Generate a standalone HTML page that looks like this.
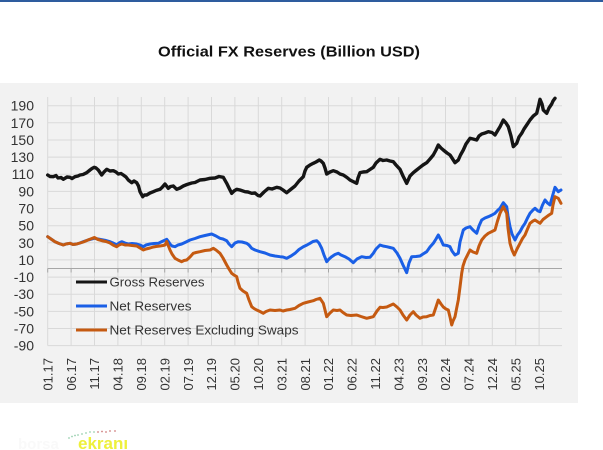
<!DOCTYPE html>
<html>
<head>
<meta charset="utf-8">
<style>
html,body{margin:0;padding:0;background:#fff;}
svg{display:block;}
text{font-family:"Liberation Sans",Arial,sans-serif;}
</style>
</head>
<body>
<svg width="603" height="450" viewBox="0 0 603 450" xmlns="http://www.w3.org/2000/svg">
<rect x="0" y="0" width="603" height="450" fill="#ffffff"/>
<rect x="0" y="0" width="603" height="2" fill="#2e5c9e"/>
<text x="289" y="56.5" text-anchor="middle" font-size="15" font-weight="bold" fill="#111" textLength="262" lengthAdjust="spacingAndGlyphs">Official  FX Reserves (Billion  USD)</text>
<rect x="0" y="83" width="578" height="320" fill="#f2f2f2"/>

<!-- horizontal gridlines -->
<g stroke="#d9d9d9" stroke-width="1">
<line x1="47.7" x2="562" y1="105.7" y2="105.7"/>
<line x1="47.7" x2="562" y1="122.8" y2="122.8"/>
<line x1="47.7" x2="562" y1="140" y2="140"/>
<line x1="47.7" x2="562" y1="157.1" y2="157.1"/>
<line x1="47.7" x2="562" y1="174.2" y2="174.2"/>
<line x1="47.7" x2="562" y1="191.4" y2="191.4"/>
<line x1="47.7" x2="562" y1="208.5" y2="208.5"/>
<line x1="47.7" x2="562" y1="225.7" y2="225.7"/>
<line x1="47.7" x2="562" y1="242.8" y2="242.8"/>
<line x1="47.7" x2="562" y1="259.9" y2="259.9"/>
<line x1="47.7" x2="562" y1="277.1" y2="277.1"/>
<line x1="47.7" x2="562" y1="294.2" y2="294.2"/>
<line x1="47.7" x2="562" y1="311.4" y2="311.4"/>
<line x1="47.7" x2="562" y1="328.5" y2="328.5"/>
<line x1="47.7" x2="562" y1="345.6" y2="345.6"/>
</g>
<!-- vertical gridlines -->
<g stroke="#d9d9d9" stroke-width="1">
<line y1="97" y2="345.6" x1="47.7" x2="47.7"/>
<line y1="97" y2="345.6" x1="71.1" x2="71.1"/>
<line y1="97" y2="345.6" x1="94.5" x2="94.5"/>
<line y1="97" y2="345.6" x1="117.9" x2="117.9"/>
<line y1="97" y2="345.6" x1="141.3" x2="141.3"/>
<line y1="97" y2="345.6" x1="164.7" x2="164.7"/>
<line y1="97" y2="345.6" x1="188.1" x2="188.1"/>
<line y1="97" y2="345.6" x1="211.5" x2="211.5"/>
<line y1="97" y2="345.6" x1="234.9" x2="234.9"/>
<line y1="97" y2="345.6" x1="258.3" x2="258.3"/>
<line y1="97" y2="345.6" x1="281.7" x2="281.7"/>
<line y1="97" y2="345.6" x1="305.1" x2="305.1"/>
<line y1="97" y2="345.6" x1="328.5" x2="328.5"/>
<line y1="97" y2="345.6" x1="351.9" x2="351.9"/>
<line y1="97" y2="345.6" x1="375.3" x2="375.3"/>
<line y1="97" y2="345.6" x1="398.7" x2="398.7"/>
<line y1="97" y2="345.6" x1="422.1" x2="422.1"/>
<line y1="97" y2="345.6" x1="445.5" x2="445.5"/>
<line y1="97" y2="345.6" x1="468.9" x2="468.9"/>
<line y1="97" y2="345.6" x1="492.3" x2="492.3"/>
<line y1="97" y2="345.6" x1="515.7" x2="515.7"/>
<line y1="97" y2="345.6" x1="539.1" x2="539.1"/>
</g>
<!-- zero axis + ticks -->
<g stroke="#a6a6a6" stroke-width="1">
<line x1="47.7" x2="562" y1="268.5" y2="268.5"/>
<line y1="268.5" y2="272.5" x1="47.7" x2="47.7"/>
<line y1="268.5" y2="272.5" x1="71.1" x2="71.1"/>
<line y1="268.5" y2="272.5" x1="94.5" x2="94.5"/>
<line y1="268.5" y2="272.5" x1="117.9" x2="117.9"/>
<line y1="268.5" y2="272.5" x1="141.3" x2="141.3"/>
<line y1="268.5" y2="272.5" x1="164.7" x2="164.7"/>
<line y1="268.5" y2="272.5" x1="188.1" x2="188.1"/>
<line y1="268.5" y2="272.5" x1="211.5" x2="211.5"/>
<line y1="268.5" y2="272.5" x1="234.9" x2="234.9"/>
<line y1="268.5" y2="272.5" x1="258.3" x2="258.3"/>
<line y1="268.5" y2="272.5" x1="281.7" x2="281.7"/>
<line y1="268.5" y2="272.5" x1="305.1" x2="305.1"/>
<line y1="268.5" y2="272.5" x1="328.5" x2="328.5"/>
<line y1="268.5" y2="272.5" x1="351.9" x2="351.9"/>
<line y1="268.5" y2="272.5" x1="375.3" x2="375.3"/>
<line y1="268.5" y2="272.5" x1="398.7" x2="398.7"/>
<line y1="268.5" y2="272.5" x1="422.1" x2="422.1"/>
<line y1="268.5" y2="272.5" x1="445.5" x2="445.5"/>
<line y1="268.5" y2="272.5" x1="468.9" x2="468.9"/>
<line y1="268.5" y2="272.5" x1="492.3" x2="492.3"/>
<line y1="268.5" y2="272.5" x1="515.7" x2="515.7"/>
<line y1="268.5" y2="272.5" x1="539.1" x2="539.1"/>
</g>

<!-- y labels -->
<g font-size="14" fill="#333" text-anchor="end">
<text x="34" y="110.7">190</text>
<text x="34" y="127.8">170</text>
<text x="34" y="145">150</text>
<text x="34" y="162.1">130</text>
<text x="34" y="179.2">110</text>
<text x="34" y="196.4">90</text>
<text x="34" y="213.5">70</text>
<text x="34" y="230.7">50</text>
<text x="34" y="247.8">30</text>
<text x="34" y="264.9">10</text>
<text x="34" y="282.1">-10</text>
<text x="34" y="299.2">-30</text>
<text x="34" y="316.4">-50</text>
<text x="34" y="333.5">-70</text>
<text x="34" y="350.6">-90</text>
</g>

<!-- x labels -->
<g font-size="13" fill="#333" text-anchor="end">
<text transform="translate(52.4,358) rotate(-90)">01.17</text>
<text transform="translate(75.8,358) rotate(-90)">06.17</text>
<text transform="translate(99.2,358) rotate(-90)">11.17</text>
<text transform="translate(122.6,358) rotate(-90)">04.18</text>
<text transform="translate(146,358) rotate(-90)">09.18</text>
<text transform="translate(169.4,358) rotate(-90)">02.19</text>
<text transform="translate(192.8,358) rotate(-90)">07.19</text>
<text transform="translate(216.2,358) rotate(-90)">12.19</text>
<text transform="translate(239.6,358) rotate(-90)">05.20</text>
<text transform="translate(263,358) rotate(-90)">10.20</text>
<text transform="translate(286.4,358) rotate(-90)">03.21</text>
<text transform="translate(309.8,358) rotate(-90)">08.21</text>
<text transform="translate(333.2,358) rotate(-90)">01.22</text>
<text transform="translate(356.6,358) rotate(-90)">06.22</text>
<text transform="translate(380,358) rotate(-90)">11.22</text>
<text transform="translate(403.4,358) rotate(-90)">04.23</text>
<text transform="translate(426.8,358) rotate(-90)">09.23</text>
<text transform="translate(450.2,358) rotate(-90)">02.24</text>
<text transform="translate(473.6,358) rotate(-90)">07.24</text>
<text transform="translate(497,358) rotate(-90)">12.24</text>
<text transform="translate(520.4,358) rotate(-90)">05.25</text>
<text transform="translate(543.8,358) rotate(-90)">10.25</text>
</g>

<!-- Gross Reserves -->
<polyline fill="none" stroke="#151515" stroke-width="3.4" stroke-linejoin="round" stroke-linecap="round" points="47.7,175 50,176.5 53.3,176.7 56,175.5 58,178 61,177.5 63.3,179.3 67,177 70,177.3 72,178.5 75,176.7 78,176 80,175 83,174.5 86.7,172.7 90,170 92,168.5 94.3,167.3 96,168 98.3,170 101.7,175 104,172 106.7,169.3 110,171 113.3,170.7 116,172 118.3,174 121,173.5 123.3,175 126,177 128.3,180 131.7,182.7 134,181 136.7,182.7 138.5,186 140,191.7 142.7,196.7 144.5,195 146.7,195 150,193 153.3,191.7 156,190.5 160,189.3 162,187.5 165,184 168.3,188.3 170.5,186.5 173.3,186 176.7,189.3 180,188 183.3,186 187,184.5 191.7,183 195,182.5 200,180 205,179.5 210,178.3 215,178 219,176.5 223.3,177.3 226.7,183.3 229,188 231.7,193.3 234,191 236.7,189.3 240,190 245,191.7 248,192 251.7,193.3 255,193 258,195.5 260,196 264,192 268.3,188.3 272,189 276.7,187.3 280,188 283,190 286.7,192.7 290,190 295,186 299,181 303.3,176.7 305,171 306.7,167.3 310,165 313.3,163.3 316,162 319.3,160 321,161 323.3,163.3 325,168 326.7,174 330,172 333.3,170.7 337,172 340,174 343.3,175 347,177.5 350,180 353,181.5 356.7,183.3 358,178 360,172.7 363,172 366.7,171.7 370,169.5 373.3,167.3 376,163 380,159.3 383,160.5 386.7,160 390,161 393.3,161.7 396,165 400,169.3 403,176 406.7,183.3 410,176 413.3,172.7 416,170.5 420,167.3 423,165 426.7,162.7 430,159 433.3,155 436,150 438.3,145 441,148 443.3,150 447,153 450,155 452,158 455,162.7 458.3,160 460.5,155 463.3,150 466,144 470,138.3 473,139 476.7,140 479,136 481.7,134 485,133 488.3,131.7 492,132.5 495,135 498,130 500,126.7 503.3,120 506,123 508.3,126.7 511,136 513.3,146.7 516.7,143.3 519,137 521.7,133.3 524,129 526.7,125 530,120 533.3,116 536.7,113.3 538.5,106 540,99.3 542,104 543.3,110 546.7,113.3 549,108 551.7,104 553,101 555,98.3"/>

<!-- Net Reserves -->
<polyline fill="none" stroke="#1a5fe6" stroke-width="3" stroke-linejoin="round" stroke-linecap="round" points="47.7,236.7 51,239 55,241.7 59,243.5 63.3,245 66,244 70,243.3 73,244.5 76.7,244 80,243 83.3,241.7 88,240 94.3,238.3 98,239 103.3,240 106,240.5 110,241.7 113,243 116.7,245 119,243 121.7,241.7 125,243 128.3,244 132,243.5 136.7,244 140,245 143.3,246.7 146,245 150,244 154,243.5 158.3,243.3 162,241.5 166.7,239.3 168,241 170,244 172,246 175,246.7 178,245 181.7,244 186,242 190,240 195,238.5 200,236.7 205,235.5 211.7,234 216,236 220,238.3 223,239 226.7,240.7 229,244 231.7,246.7 235,243 238.3,241.7 242,242 246.7,243.3 249,245 251.7,248.3 255,250 260,251.7 265,253 270,255 275,256 280,256.7 283,257 286.7,258.3 291,256 295,253.3 299,249.5 303.3,246.7 307,245 310,243.3 313,241.5 316.7,240.7 319,243 321.7,248.3 324,255 326.7,261.7 329,259 331.7,256.7 335,254.5 338.3,253.3 341,255 345,256.7 349,259 353.3,262.7 357,259 361.7,256.7 366,257.5 370,257.3 373.3,253.3 376,249 380,245 383,246 386.7,246.7 390,247.5 393.3,248.3 397,253 400,258.3 403,265 406.7,272.7 409,263 411.7,256.7 416,256.5 420,256 423,254 426.7,251.7 430,247 433.3,243.3 436,239 438.3,235 441,240 443.3,245 447,245.5 450,246.7 452,251 455,255 458.3,253.3 460,242 463.3,230 466,228 470,226.7 473,230 476.7,233.3 479,226 481.7,220 485,218 488.3,216.7 492,215 495,213.3 498,210 500,208.3 503.3,202.7 506.7,206.7 508,216 510,226.7 512,234 515,240 517.5,235 520,231.7 522.5,227 525,223.3 527.5,218 530,213.3 533,210 535,208.3 538,211 540,211.7 542.5,205 545,200 547.5,203 550,205 552.5,196 555,187.3 558.3,191.7 561,190"/>

<!-- Net Reserves Excluding Swaps -->
<polyline fill="none" stroke="#c55a11" stroke-width="3" stroke-linejoin="round" stroke-linecap="round" points="47.7,236.7 51,239 55,241.7 59,243.5 63.3,245 66,244 70,243.3 73,244.5 76.7,244 80,243 83.3,242 88,240 94.3,237.5 98,239.5 103.3,241 106,241.5 110,243 113,245 116.7,246.7 119,245 121.7,244 125,245 128.3,245 132,245.5 136.7,246 140,248 143.3,250 146,249 150,248 153.3,247 156,246.5 160,246 163,245.5 165,245 166.7,241.5 168,245 170,250 172,254 175,258.3 178,260 181.7,261.7 184,260.5 186.7,260 190,257 193.3,253.3 196,252.5 200,251.7 205,250.5 210,250 213.3,248.3 216,250 220,253.3 223,258 226.7,265 229,269 231.7,273.3 234,275 236.7,276.7 238,282 240,288.3 243,291 246.7,293.3 249,300 251.7,306.7 254,308.5 256.7,310 260,311.5 263.3,313.3 266,311.5 270,310 275,310.5 280,310 283,311 286.7,310 290,309.5 295,308.3 299,305.5 303.3,303.3 308,302 313.3,300.7 316,299.5 320,298.3 323.3,303.3 325,310 326.7,316.7 330,313 333.3,310 337,310.5 340,310 343,312.5 346.7,315 351,315.5 356.7,315 361,316.5 366.7,318.3 370,317.5 373.3,316.7 377,311 380,307.3 383,307.5 386.7,307 390,305.5 393.3,304 397,307 400,310 403,315 406.7,320 410,315 413.3,311.7 416,315 420,318.3 423,317 426.7,316.7 430,315.5 433.3,315 436,307 438.3,300 441,304 443.3,307 446,309 448.3,310 450,317 451.7,325 453,321 455,316.7 456.5,309 458.3,300 460,287 461.7,273.3 463,266 465,260 467.5,255 470,250 473,252 476.7,253.3 479,246 481.7,240 485,236 488.3,233.3 492,231.5 495,230 497.5,221 500,213.3 503.3,206.7 506.7,213.3 508,228 510,243.3 512,250 514.3,255 517,249 520,243.3 522.5,238.5 525,235 527.5,229 530,223.3 533,221 535,220 538,222 540,223.3 543,219.5 546.7,216.7 549,215 551.7,213.3 553,205 555,196.7 558.3,198.3 561,203.3"/>

<!-- legend -->
<line x1="76" x2="107" y1="282" y2="282" stroke="#151515" stroke-width="3"/>
<line x1="76" x2="107" y1="306" y2="306" stroke="#1a5fe6" stroke-width="3"/>
<line x1="76" x2="107" y1="330" y2="330" stroke="#c55a11" stroke-width="3"/>
<g font-size="13" fill="#333">
<text x="109.5" y="286.5" textLength="95" lengthAdjust="spacingAndGlyphs">Gross Reserves</text>
<text x="109.5" y="310.5" textLength="82" lengthAdjust="spacingAndGlyphs">Net Reserves</text>
<text x="109.5" y="334.5" textLength="189" lengthAdjust="spacingAndGlyphs">Net Reserves Excluding Swaps</text>
</g>

<!-- logo -->
<g fill="#9ad0b0">
<circle cx="69" cy="438" r="0.9"/><circle cx="72" cy="436.5" r="0.9"/><circle cx="75" cy="435.5" r="0.9"/>
<circle cx="78" cy="435" r="0.9"/><circle cx="82" cy="434" r="0.9"/><circle cx="86" cy="433" r="0.9"/>
<circle cx="90" cy="432" r="0.9"/><circle cx="94" cy="432" r="0.9"/>
</g>
<g fill="#d08080">
<circle cx="98" cy="432" r="0.9"/><circle cx="102" cy="431.5" r="0.9"/><circle cx="106" cy="432" r="0.9"/>
<circle cx="110" cy="431" r="0.9"/><circle cx="115" cy="431" r="0.9"/>
</g>
<text x="18" y="449" font-size="15" font-weight="bold" fill="#f9f9f9">borsa</text>
<text x="78" y="449" font-size="17" font-weight="bold" fill="#eef03c">ekranı</text>
</svg>
</body>
</html>
